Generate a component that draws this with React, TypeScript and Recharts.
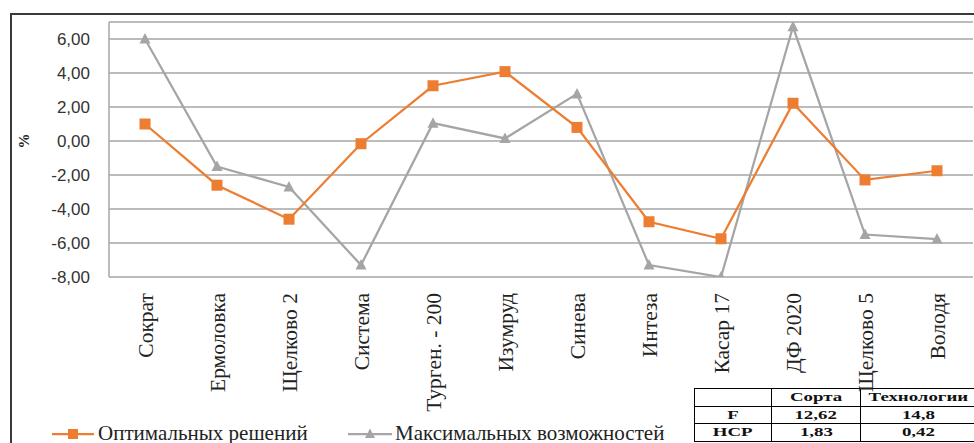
import React from 'react';
import { LineChart, Line, XAxis, YAxis, CartesianGrid } from 'recharts';

const categories = ['Сократ', 'Ермоловка', 'Щелково 2', 'Система', 'Турген. - 200', 'Изумруд', 'Синева', 'Интеза', 'Касар 17', 'ДФ 2020', 'Щелково 5', 'Володя'];
const optimal = [1.0, -2.6, -4.6, -0.16, 3.25, 4.08, 0.8, -4.75, -5.75, 2.22, -2.29, -1.75];
const maximal = [6.0, -1.5, -2.7, -7.3, 1.05, 0.15, 2.77, -7.3, -8.0, 6.72, -5.5, -5.77];
const yTicks = [-8, -6, -4, -2, 0, 2, 4, 6];
const seriesNames = ['Оптимальных решений', 'Максимальных возможностей'];
const tableHeader = ['', 'Сорта', 'Технологии'];
const tableRowLabels = ['F', 'НСР'];
const sortaValues = ['12,62', '1,83'];
const techValues = ['14,8', '0,42'];

const ORANGE = '#ED7D31';
const GRAY = '#A5A5A5';

const data = categories.map((c, i) => ({ name: c, opt: optimal[i], max: maximal[i] }));

const SquareDot = (props: any) => {
  const { cx, cy } = props;
  if (cx == null || cy == null) return null;
  return <rect x={cx - 5.5} y={cy - 5.5} width={11} height={11} fill={ORANGE} />;
};

const TriDot = (props: any) => {
  const { cx, cy } = props;
  if (cx == null || cy == null) return null;
  return <polygon points={`${cx},${cy - 6} ${cx + 5.5},${cy + 4.5} ${cx - 5.5},${cy + 4.5}`} fill={GRAY} />;
};

const XTick = (props: any) => {
  const { x, y, payload } = props;
  return (
    <g transform={`translate(${x},${y + 8}) rotate(-90)`}>
      <text x={0} y={0} dy="0.38em" textAnchor="end" fontFamily="'Liberation Serif', serif" fontSize={21.5} fill="#222">
        {payload.value}
      </text>
    </g>
  );
};

const fmt = (v: number) => v.toFixed(2).replace('.', ',');

const Wide = ({ children }: { children: React.ReactNode }) => (
  <span style={{ display: 'inline-block', transform: 'scaleX(1.45)', transformOrigin: 'center' }}>{children}</span>
);

export default function App() {
  const cell: React.CSSProperties = {
    border: '1px solid #000',
    padding: 0,
    textAlign: 'center',
    fontFamily: "'Liberation Serif', serif",
    fontWeight: 'bold',
    fontSize: 13,
    height: 16.5,
    lineHeight: '16px',
    color: '#111',
  };
  const legendText: React.CSSProperties = { fontFamily: "'Liberation Serif', serif", fontSize: 21, color: '#222', whiteSpace: 'nowrap' };
  return (
    <div style={{ position: 'absolute', left: 0, top: 0, width: 974, height: 443, overflow: 'hidden', background: '#fff' }}>
      <div style={{ position: 'absolute', left: 10, top: 13, width: 1100, height: 600, borderTop: '2px solid #3a3a3a', borderLeft: '2px solid #3a3a3a' }} />
      <table style={{ position: 'absolute', left: 694, top: 388, borderCollapse: 'collapse', width: 279, tableLayout: 'fixed' }}>
        <tbody>
          <tr>
            {tableHeader.map((h, i) => (
              <td key={i} style={{ ...cell, width: i === 0 ? 76 : i === 1 ? 88 : 115 }}><Wide>{h}</Wide></td>
            ))}
          </tr>
          {tableRowLabels.map((r, i) => (
            <tr key={r}>
              <td style={cell}><Wide>{r}</Wide></td>
              <td style={cell}><Wide>{sortaValues[i]}</Wide></td>
              <td style={cell}><Wide>{techValues[i]}</Wide></td>
            </tr>
          ))}
        </tbody>
      </table>
      <div style={{ position: 'absolute', left: 0, top: 0 }}>
        <LineChart width={974} height={443} data={data} margin={{ top: 22, right: 1, left: 49, bottom: 46 }}>
          <CartesianGrid horizontal vertical={false} stroke="#a6a6a6" strokeWidth={1.5} />
          <XAxis dataKey="name" axisLine={false} tickLine={false} interval={0} height={120} padding={{ left: 36, right: 36 }} tick={<XTick />} />
          <YAxis
            domain={[-8, 7]}
            ticks={yTicks}
            width={60}
            tickFormatter={fmt}
            axisLine={{ stroke: '#a6a6a6', strokeWidth: 1.5 }}
            tickLine={false}
            tickSize={0}
            tickMargin={19}
            tick={{ fontFamily: "'Liberation Sans', Arial, sans-serif", fontSize: 17, fill: '#333' }}
            allowDataOverflow
            label={() => (
              <text x={24} y={141} transform="rotate(-90 24 141)" textAnchor="middle" dominantBaseline="central" fontFamily="'Liberation Serif', serif" fontWeight="bold" fontSize={15} fill="#222">%</text>
            )}
          />
          <Line dataKey="max" name={seriesNames[1]} stroke={GRAY} strokeWidth={2.25} dot={<TriDot />} isAnimationActive={false} />
          <Line dataKey="opt" name={seriesNames[0]} stroke={ORANGE} strokeWidth={2.25} dot={<SquareDot />} isAnimationActive={false} />
        </LineChart>
      </div>
      <div style={{ position: 'absolute', left: 52, top: 421, display: 'flex', alignItems: 'center' }}>
        <svg width={42} height={12} style={{ marginRight: 4 }}>
          <line x1={0} y1={6} x2={42} y2={6} stroke={ORANGE} strokeWidth={2.25} />
          <rect x={16} y={1} width={10} height={10} fill={ORANGE} />
        </svg>
        <span style={legendText}>{seriesNames[0]}</span>
      </div>
      <div style={{ position: 'absolute', left: 348, top: 421, display: 'flex', alignItems: 'center' }}>
        <svg width={44} height={12} style={{ marginRight: 3 }}>
          <line x1={0} y1={6} x2={44} y2={6} stroke={GRAY} strokeWidth={2.25} />
          <polygon points="22,0.5 27,10 17,10" fill={GRAY} />
        </svg>
        <span style={legendText}>{seriesNames[1]}</span>
      </div>
    </div>
  );
}
